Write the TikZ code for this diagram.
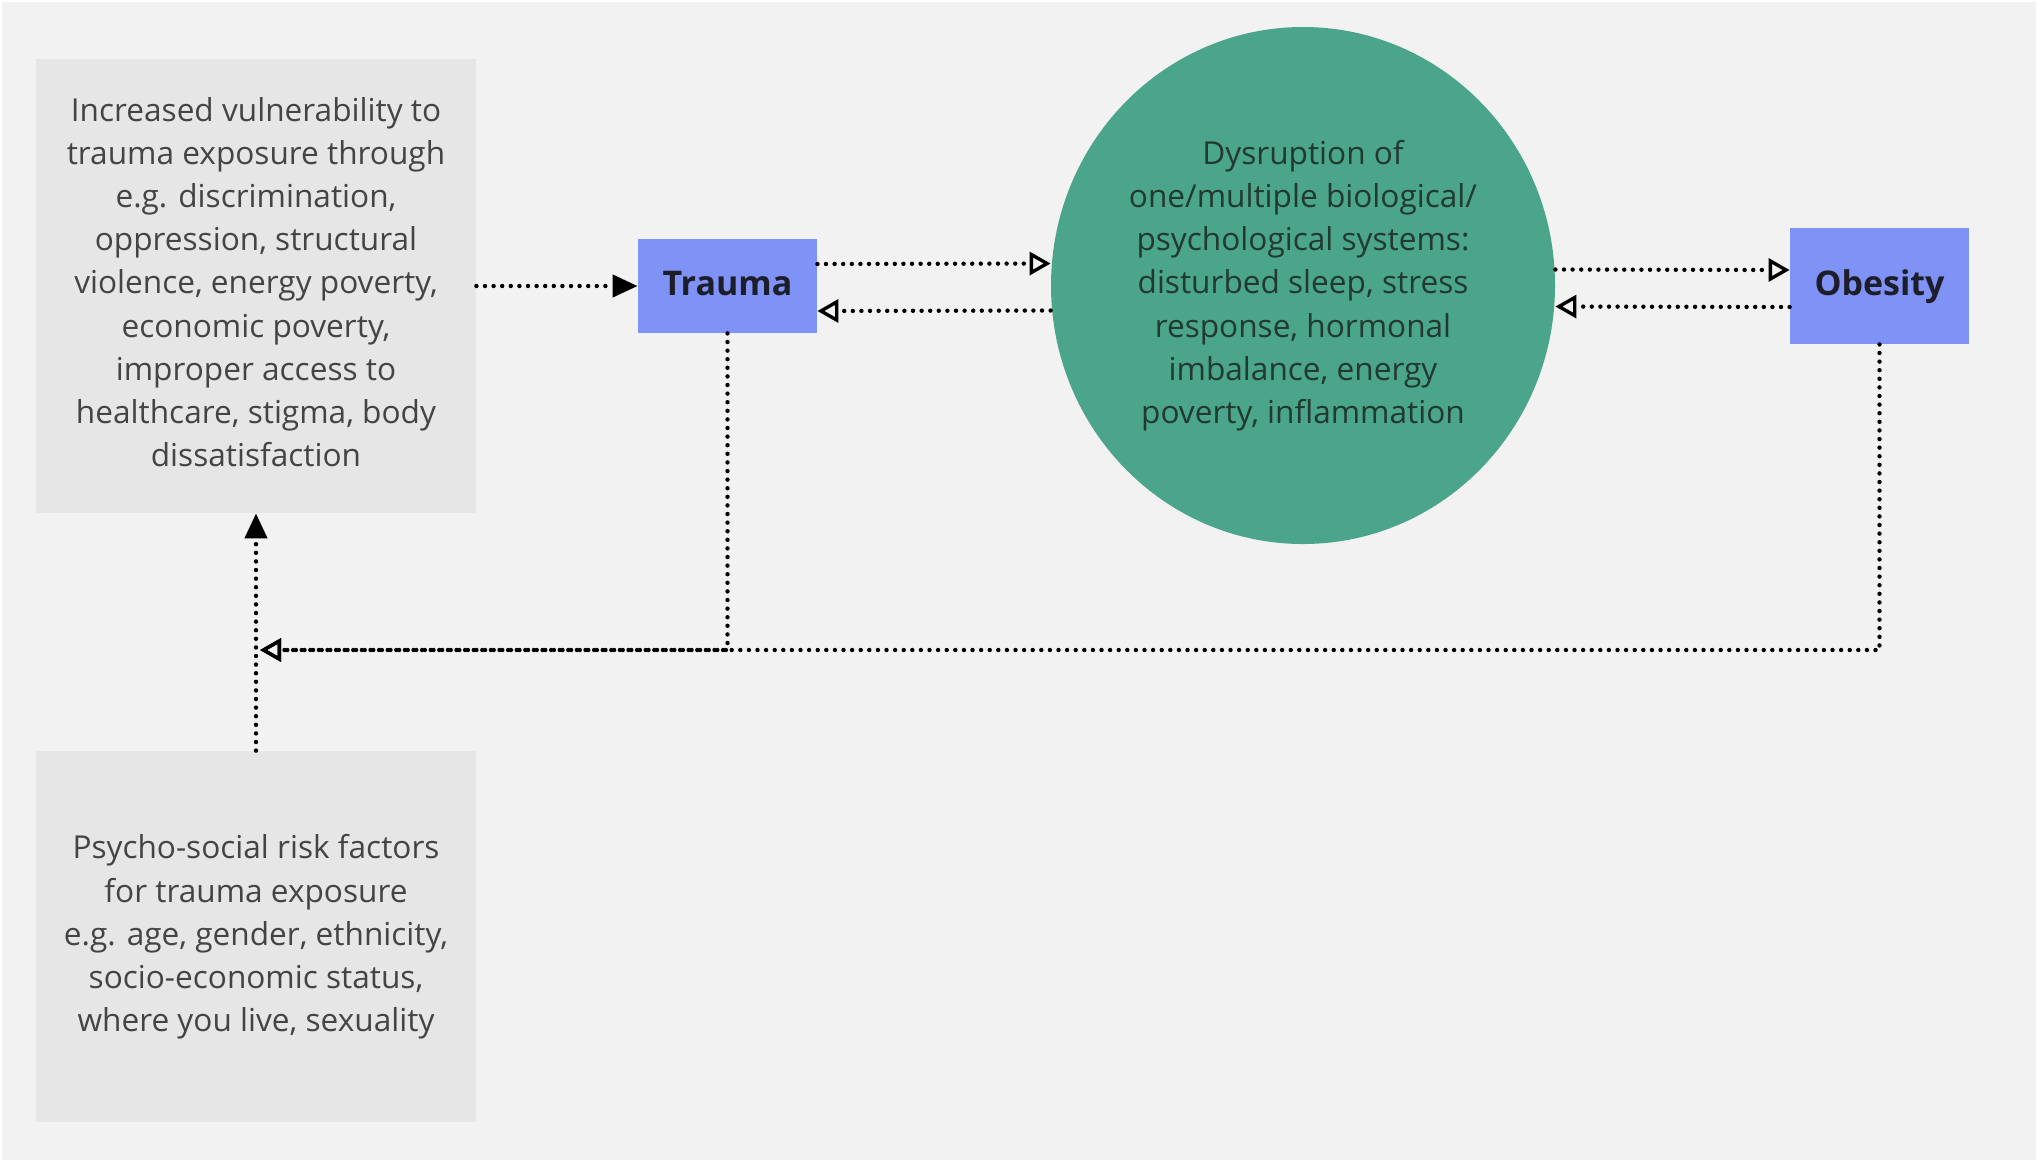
\documentclass[tikz,border=0pt]{standalone}
\usepackage{fontspec}
\setmainfont{Open Sans}
\usetikzlibrary{arrows.meta,shapes.geometric}
\definecolor{bgc}{HTML}{F2F2F2}
\definecolor{boxc}{HTML}{E6E6E6}
\definecolor{bluec}{HTML}{7F93F7}
\definecolor{greenc}{HTML}{4AA58A}
\definecolor{txtc}{HTML}{444444}
\definecolor{circtxt}{HTML}{22392F}
\definecolor{boldtxt}{HTML}{1E1E2A}
\tikzset{
  greybox/.style={fill=boxc, draw=none, inner sep=0pt, align=center, text=txtc,
    font=\fontsize{15.8}{21.6}\selectfont},
  bluebox/.style={fill=bluec, draw=none, inner sep=0pt, text=boldtxt,
    font=\fontsize{17}{20}\selectfont\bfseries},
  dotline/.style={line width=2.2pt, dash pattern=on 0pt off 4.3pt, line cap=round, black},
  filltip/.style={-{Triangle[length=12.5pt, width=11pt]}},
  opentip/.style={-{Triangle[open, length=10.5pt, width=11.5pt, line width=1.7pt]}},
}
\begin{document}
\begin{tikzpicture}[x=0.5pt, y=-0.5pt]
\useasboundingbox (0,0) rectangle (2040,1164);
\fill[white] (0,0) rectangle (2040,1164);
\fill[bgc] (2,2) rectangle (2036,1160);

\node[greybox, minimum width=220pt, minimum height=227pt] (top) at (256,286) {};
\node[greybox, fill=none] (toptext) at (256,282)
  {Increased vulnerability to\\trauma exposure through\\e.g. discrimination,\\oppression, structural\\violence, energy poverty,\\economic poverty,\\improper access to\\healthcare, stigma, body\\dissatisfaction};

\node[greybox, minimum width=220pt, minimum height=185.5pt] (bot) at (256,936.5) {};
\node[greybox, fill=none] (bottext) at (256,937)
  {Psycho-social risk factors\\for trauma exposure\\e.g. age, gender, ethnicity,\\socio-economic status,\\where you live, sexuality};

\node[bluebox, minimum width=89.5pt, minimum height=47pt] (trauma) at (727.5,286) {};
\node[bluebox] (traumatext) at (727.5,284) {Trauma};
\node[bluebox, minimum width=89.5pt, minimum height=58pt] (obes) at (1879.5,286) {};
\node[bluebox] (obestext) at (1879.5,286.5) {Obesity};

\node[ellipse, fill=greenc, draw=none, inner sep=0pt, minimum width=252pt, minimum height=258.5pt] (circ) at (1303,285.5) {};
\node[align=center, text=circtxt, inner sep=0pt, font=\fontsize{15.8}{21.6}\selectfont] (circtext) at (1303,285.5)
  {Dysruption of\\one/multiple biological/\\psychological systems:\\disturbed sleep, stress\\response, hormonal\\imbalance, energy\\poverty, inflammation};

\coordinate (join) at (260,650);

% connectors
\draw[dotline, filltip] (top.east) -- (trauma.west);
\draw[dotline, opentip] ([yshift=11pt]trauma.east) -- ([yshift=11pt]circ.west);
\draw[dotline, opentip] ([yshift=-12.5pt]circ.west) -- ([yshift=-12.5pt]trauma.east);
\draw[dotline, opentip] ([yshift=8pt]circ.east) -- ([yshift=8pt]obes.west);
\draw[dotline, opentip] ([yshift=-10.5pt]obes.west) -- ([yshift=-10.5pt]circ.east);
\draw[dotline, opentip] (obes.south) |- (join);
\draw[dotline, opentip] (trauma.south) |- (join);
\draw[dotline, filltip] (bot.north) -- (top.south);
\end{tikzpicture}
\end{document}
